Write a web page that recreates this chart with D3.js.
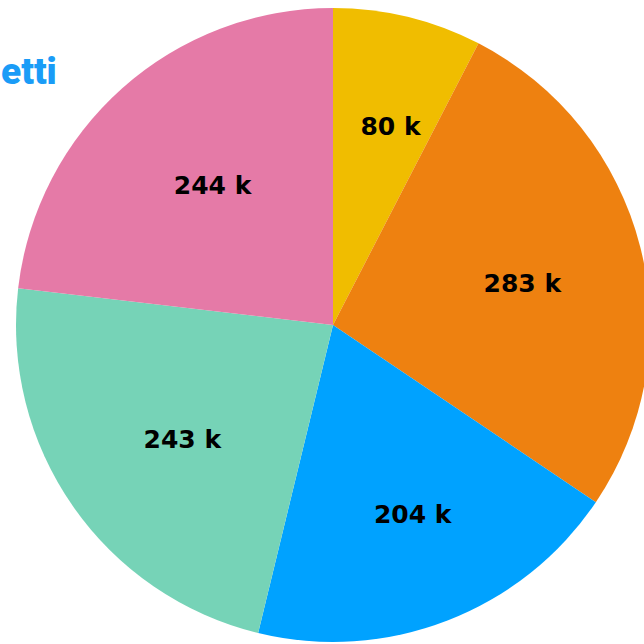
<!DOCTYPE html>
<html>
<head>
<meta charset="utf-8">
<script src="https://cdn.jsdelivr.net/npm/d3@7"></script>
<style>
  html, body { margin: 0; padding: 0; background: #ffffff; overflow: hidden; }
  svg { display: block; }
</style>
</head>
<body>
<svg id="chart" width="644" height="644"></svg>
<script>
const categories = ["A", "B", "C", "D", "E"];
const values = [80, 283, 204, 243, 244];
const labels = ["80 k", "283 k", "204 k", "243 k", "244 k"];
const colors = ["#f0bd00", "#ee8110", "#00a2ff", "#76d3b7", "#e57aa7"];
const titleText = "etti";

const svg = d3.select("#chart");
const cx = 333, cy = 325, R = 317;

const title = svg.append("text")
  .attr("x", 1).attr("y", 84)
  .attr("text-anchor", "start")
  .style("font-family", "Roboto")
  .style("font-weight", "900")
  .style("font-size", "37px")
  .attr("fill", "#1a9cf7")
  .text(titleText);
// fit the visible title into the left margin
const tw = title.node().getComputedTextLength();
if (tw > 56) title.style("font-size", (37 * 56 / tw) + "px");

const data = categories.map((c, i) => ({ c, v: values[i], label: labels[i], color: colors[i] }));
const pie = d3.pie().value(d => d.v).sort(null);
const arcs = pie(data);
const arc = d3.arc().innerRadius(0).outerRadius(R);

// area centroid of each sector
function sectorCentroid(d) {
  const half = (d.endAngle - d.startAngle) / 2;
  const mid = (d.startAngle + d.endAngle) / 2;
  const dist = 2 * R * Math.sin(half) / (3 * half);
  return [dist * Math.sin(mid) + 8, -dist * Math.cos(mid) + 4];
}

const g = svg.append("g").attr("transform", `translate(${cx},${cy})`);
g.selectAll("path").data(arcs).join("path")
  .attr("d", arc)
  .attr("fill", d => d.data.color);

g.selectAll("text").data(arcs).join("text")
  .attr("transform", d => `translate(${sectorCentroid(d)})`)
  .attr("text-anchor", "middle")
  .attr("dy", "0.36em")
  .attr("font-family", "DejaVu Sans")
  .attr("font-weight", "bold")
  .attr("font-size", 25)
  .attr("fill", "#000")
  .text(d => d.data.label);
</script>
</body>
</html>
